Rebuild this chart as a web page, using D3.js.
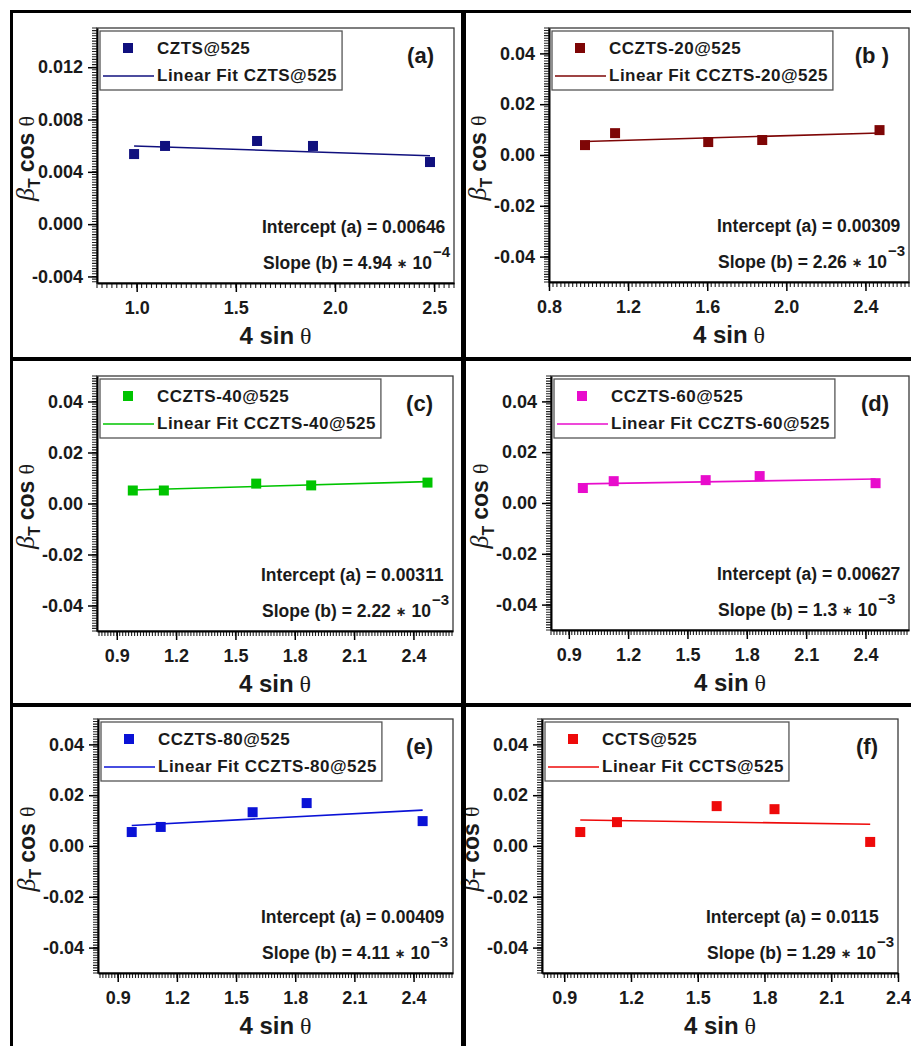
<!DOCTYPE html>
<html>
<head>
<meta charset="utf-8">
<script src="https://cdn.jsdelivr.net/npm/d3@7"></script>
<style>
  body { margin: 0; background: #fff; }
  svg { display: block; font-family: 'Liberation Sans', Arial, sans-serif; }
</style>
</head>
<body>
<svg id="chart" width="911" height="1046"></svg>
<script>
// Williamson-Hall plots, one panel per sample
const samples = ['CZTS@525', 'CCZTS-20@525', 'CCZTS-40@525', 'CCZTS-60@525', 'CCZTS-80@525', 'CCTS@525']
const panelTags = ['(a)', '(b )', '(c)', '(d)', '(e)', '(f)']
const colors = ['#10107e', '#7e0606', '#00c400', '#e80ccc', '#0a12d6', '#ee0a0a']

// 4 sin(theta)
const xData = [
  [0.987, 1.143, 1.607, 1.889, 2.479],
  [0.982, 1.134, 1.605, 1.878, 2.471],
  [0.981, 1.138, 1.605, 1.883, 2.471],
  [0.971, 1.127, 1.592, 1.865, 2.451],
  [0.971, 1.118, 1.584, 1.858, 2.446],
  [0.972, 1.137, 1.585, 1.845, 2.275]
]
// beta_T cos(theta)
const yData = [
  [0.00536, 0.00598, 0.00636, 0.00598, 0.00475],
  [0.0039, 0.0086, 0.0051, 0.0059, 0.0098],
  [0.0051, 0.0051, 0.0078, 0.0071, 0.0082],
  [0.0059, 0.0086, 0.0090, 0.0106, 0.0078],
  [0.0055, 0.0075, 0.0133, 0.0169, 0.0098],
  [0.0055, 0.0094, 0.0157, 0.0145, 0.0016]
]

// linear fits (line drawn as a + b*x)
const fitIntercepts = [0.00646, 0.00309, 0.00311, 0.00627, 0.00409, 0.0115]
const fitSlopes = [-4.94e-4, 2.26e-3, 2.22e-3, 1.3e-3, 4.11e-3, -1.29e-3]
const interceptLabels = ['0.00646', '0.00309', '0.00311', '0.00627', '0.00409', '0.0115']
const slopeLabels = ['4.94', '2.26', '2.22', '1.3', '4.11', '1.29']
const slopeExps = ['\u22124', '\u22123', '\u22123', '\u22123', '\u22123', '\u22123']

// axes
const xDomains = [[0.8, 2.6], [0.8, 2.62], [0.8, 2.6], [0.81, 2.62], [0.8, 2.6], [0.8, 2.4]]
const yDomains = [[-0.0045, 0.015], [-0.05, 0.05], [-0.05, 0.05], [-0.05, 0.05], [-0.05, 0.05], [-0.05, 0.05]]
const xTicks = [
  [1.0, 1.5, 2.0, 2.5],
  [0.8, 1.2, 1.6, 2.0, 2.4],
  [0.9, 1.2, 1.5, 1.8, 2.1, 2.4],
  [0.9, 1.2, 1.5, 1.8, 2.1, 2.4],
  [0.9, 1.2, 1.5, 1.8, 2.1, 2.4],
  [0.9, 1.2, 1.5, 1.8, 2.1, 2.4]
]
const yTicks = [
  [-0.004, 0, 0.004, 0.008, 0.012],
  [-0.04, -0.02, 0, 0.02, 0.04],
  [-0.04, -0.02, 0, 0.02, 0.04],
  [-0.04, -0.02, 0, 0.02, 0.04],
  [-0.04, -0.02, 0, 0.02, 0.04],
  [-0.04, -0.02, 0, 0.02, 0.04]
]
const yDecimals = [3, 2, 2, 2, 2, 2]

// plot frames (left, top, right, bottom) in page pixels
const frames = [
  { l: 97, t: 28, r: 454, b: 283 },
  { l: 549, t: 28, r: 909, b: 282 },
  { l: 97, t: 376, r: 453, b: 631 },
  { l: 551, t: 376, r: 909, b: 630 },
  { l: 98, t: 719, r: 453, b: 973 },
  { l: 542, t: 719, r: 898, b: 973 }
]

const svg = d3.select('#chart')
svg.append('rect').attr('width', 911).attr('height', 1046).attr('fill', '#fff')

// minor tick values: 20 subdivisions per major step
const minorTicks = (domain, ticks) => {
  const step = (ticks[1] - ticks[0]) / 20
  const start = Math.ceil((domain[0] - 1e-9) / step)
  const end = Math.floor((domain[1] + 1e-9) / step)
  return d3.range(start, end + 1).map(k => k * step)
}

samples.forEach((name, i) => {
  const f = frames[i]
  const color = colors[i]
  const g = svg.append('g')

  const x = d3.scaleLinear().domain(xDomains[i]).range([f.l, f.r])
  const y = d3.scaleLinear().domain(yDomains[i]).range([f.b, f.t])

  // frame
  g.append('rect')
    .attr('x', f.l).attr('y', f.t)
    .attr('width', f.r - f.l).attr('height', f.b - f.t)
    .attr('fill', 'none').attr('stroke', '#3a3a3a').attr('stroke-width', 1.3)

  // minor ticks (dense ruler look)
  const mxTicks = minorTicks(xDomains[i], xTicks[i])
  const myTicks = minorTicks(yDomains[i], yTicks[i])
  g.append('path')
    .attr('d', mxTicks.map(d => `M${x(d).toFixed(1)},${f.b}v5`).join(''))
    .attr('stroke', '#222').attr('stroke-width', 1.1).attr('fill', 'none')
  g.append('path')
    .attr('d', myTicks.map(d => `M${f.l - 5},${y(d).toFixed(1)}h5`).join(''))
    .attr('stroke', '#222').attr('stroke-width', 1.1).attr('fill', 'none')

  // major axes
  const xAxis = g.append('g')
    .attr('transform', `translate(0,${f.b})`)
    .call(d3.axisBottom(x).tickValues(xTicks[i]).tickSize(9).tickSizeOuter(0).tickPadding(9).tickFormat(d => d.toFixed(1)))
  const yAxis = g.append('g')
    .attr('transform', `translate(${f.l},0)`)
    .call(d3.axisLeft(y).tickValues(yTicks[i]).tickSize(9).tickSizeOuter(0).tickPadding(5).tickFormat(d => d.toFixed(yDecimals[i])))

  ;[xAxis, yAxis].forEach(a => {
    a.select('.domain').attr('stroke', '#000').attr('stroke-width', 2)
    a.selectAll('.tick line').attr('stroke', '#000').attr('stroke-width', 1.5)
    a.selectAll('text')
      .attr('fill', '#1a1a1a')
      .style('font-family', "'Liberation Sans', Arial, sans-serif")
      .style('font-size', '18px')
      .style('font-weight', 'bold')
  })

  // axis titles
  const xt = g.append('text')
    .attr('x', (f.l + f.r) / 2)
    .attr('y', f.b + 61)
    .attr('text-anchor', 'middle')
    .attr('fill', '#1a1a1a')
  xt.append('tspan').style('font-size', '24px').style('font-weight', 'bold').text('4 sin')
  xt.append('tspan').attr('dx', 6).style('font-family', "'Liberation Serif', serif").style('font-size', '24px').text('\u03b8')

  const yt = g.append('text')
    .attr('transform', `translate(${f.l - 63},${(f.t + f.b) / 2 + 3}) rotate(-90)`)
    .attr('text-anchor', 'middle')
    .attr('fill', '#1a1a1a')
  yt.append('tspan').style('font-family', "'Liberation Serif', serif").style('font-style', 'italic').style('font-size', '26px').text('\u03b2')
  yt.append('tspan').attr('dy', 6).style('font-size', '16px').style('font-weight', 'bold').text('T')
  yt.append('tspan').attr('dy', -6).attr('dx', 6).style('font-size', '23px').style('font-weight', 'bold').text('cos')
  yt.append('tspan').attr('dx', 6).style('font-family', "'Liberation Serif', serif").style('font-size', '22px').text('\u03b8')

  // fit line
  const xs = d3.extent(xData[i])
  g.append('line')
    .attr('x1', x(xs[0])).attr('y1', y(fitIntercepts[i] + fitSlopes[i] * xs[0]))
    .attr('x2', x(xs[1])).attr('y2', y(fitIntercepts[i] + fitSlopes[i] * xs[1]))
    .attr('stroke', color).attr('stroke-width', 1.6)

  // points
  g.append('g').selectAll('rect')
    .data(xData[i].map((v, k) => [v, yData[i][k]]))
    .join('rect')
    .attr('x', d => x(d[0]) - 5)
    .attr('y', d => y(d[1]) - 5)
    .attr('width', 10).attr('height', 10)
    .attr('fill', color)

  // legend
  const lg = g.append('g').attr('transform', `translate(${f.l + 3},${f.t + 3})`)
  const box = lg.append('rect')
    .attr('height', 59)
    .attr('fill', '#fff').attr('stroke', '#555').attr('stroke-width', 1.3)
  lg.append('rect').attr('x', 23).attr('y', 12).attr('width', 10).attr('height', 10).attr('fill', color)
  lg.append('line').attr('x1', 3).attr('x2', 54).attr('y1', 45).attr('y2', 45).attr('stroke', color).attr('stroke-width', 1.6)
  const t1 = lg.append('text').attr('x', 57).attr('y', 23).text(name)
  const t2 = lg.append('text').attr('x', 57).attr('y', 50).text('Linear Fit ' + name)
  ;[t1, t2].forEach(t => t
    .attr('fill', '#1a1a1a')
    .style('font-size', '17px').style('font-weight', 'bold').style('letter-spacing', '0.5px'))
  const tw = Math.max(t1.node().getComputedTextLength(), t2.node().getComputedTextLength())
  box.attr('width', 57 + tw + 5)

  // panel tag
  g.append('text')
    .attr('x', f.r - 20).attr('y', f.t + 35)
    .attr('text-anchor', 'end')
    .attr('fill', '#1a1a1a')
    .style('font-size', '22px').style('font-weight', 'bold')
    .text(panelTags[i])

  // fit parameters
  g.append('text')
    .attr('x', f.r - 192).attr('y', f.b - 50)
    .attr('fill', '#1a1a1a')
    .style('font-size', '17.5px').style('font-weight', 'bold')
    .text(`Intercept (a) = ${interceptLabels[i]}`)
  const st = g.append('text')
    .attr('x', f.r - 191).attr('y', f.b - 14)
    .attr('fill', '#1a1a1a')
    .style('font-size', '17.5px').style('font-weight', 'bold')
  st.append('tspan').text(`Slope (b) = ${slopeLabels[i]} `)
  st.append('tspan').attr('dy', -1).style('font-family', "'DejaVu Sans', sans-serif").style('font-size', '13px').text('\u2217')
  st.append('tspan').attr('dy', 1).text(' 10')
  st.append('tspan').attr('dy', -12).attr('dx', 1).style('font-size', '15px').text(slopeExps[i])
})

// panel dividers
const dividers = [
  [10, 11.5, 911, 11.5, 3],
  [11.5, 11, 11.5, 1046, 3],
  [463.5, 11, 463.5, 1046, 5],
  [10, 359, 911, 359, 4],
  [10, 705, 911, 705, 4]
]
svg.append('g').selectAll('line')
  .data(dividers)
  .join('line')
  .attr('x1', d => d[0]).attr('y1', d => d[1])
  .attr('x2', d => d[2]).attr('y2', d => d[3])
  .attr('stroke', '#000')
  .attr('stroke-width', d => d[4])
</script>
</body>
</html>
